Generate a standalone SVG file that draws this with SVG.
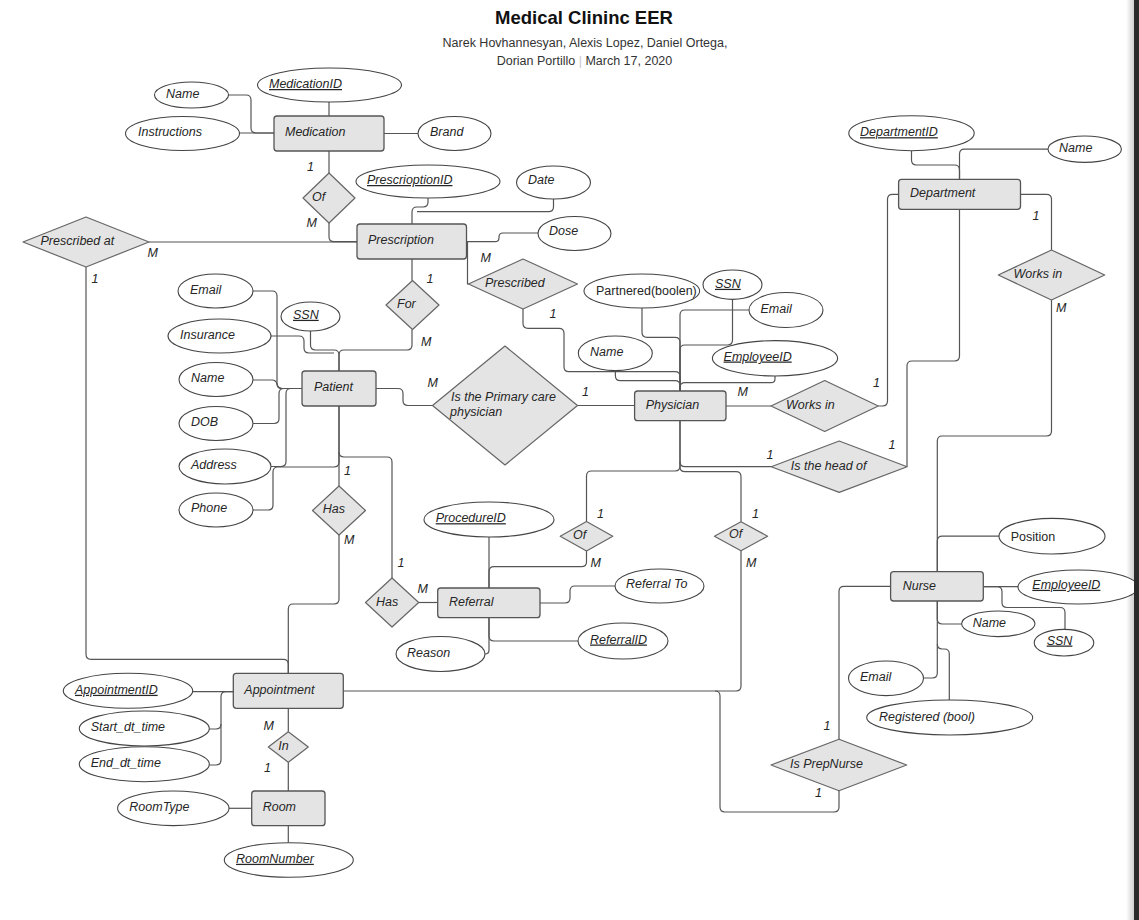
<svg xmlns="http://www.w3.org/2000/svg" width="1139" height="920" viewBox="0 0 1139 920">
<defs>
<linearGradient id="shade" x1="0" y1="0" x2="1" y2="0">
<stop offset="0" stop-color="#ffffff"/>
<stop offset="1" stop-color="#d0d0d0"/>
</linearGradient>
</defs>
<style>
text{font-family:"Liberation Sans",Arial,sans-serif;font-size:12.5px;fill:#262626;font-style:italic}
.t{font-style:normal}
.u{text-decoration:underline}
.title{font-size:18.5px;font-weight:bold;font-style:normal;fill:#111}
.sub{font-size:12.5px;font-style:normal;fill:#333}
.ent{fill:#e4e4e4;stroke:#555;stroke-width:1.3}
.rel{fill:#e4e4e4;stroke:#666;stroke-width:1.2;stroke-linejoin:round}
.att{fill:#fff;stroke:#444;stroke-width:1.1}
#connectors path{fill:none;stroke:#555;stroke-width:1.2}
</style>
<rect x="0" y="0" width="1139" height="920" fill="#fff"/>
<rect x="1126" y="0" width="8" height="920" fill="url(#shade)"/>

<g id="title">
<text class="title" x="584" y="24" text-anchor="middle">Medical Clininc EER</text>
<text class="sub" x="585" y="47" text-anchor="middle">Narek Hovhannesyan,  Alexis Lopez, Daniel Ortega,</text>
<text class="sub" x="584.5" y="65" text-anchor="middle">Dorian Portillo <tspan fill="#c8c8c8">|</tspan> March 17, 2020</text>
</g>

<g id="connectors">
<path d="M228,95 H246 q5,0 5,5 V128 q0,5 5,5 H274"/>
<path d="M239,133 H274"/>
<path d="M329,102 V116"/>
<path d="M384,133.5 H418"/>
<path d="M329,151 V173"/>
<path d="M329,223 V236.7 q0,5 5,5 H357"/>
<path d="M149,242 H357"/>
<path d="M428,198 V202 q0,5 -5,5 H417 q-5,0 -5,5 V224"/>
<path d="M553.5,199 V206.7 q0,5 -5,5 H417"/>
<path d="M466.5,241.7 H495 q4,0 4,-4 V237 q0,-4 4,-4 H538"/>
<path d="M467.5,241.7 V284 H469"/>
<path d="M523,309 V323.3 q0,5 5,5 H559 q5,0 5,5 V366.7 q0,5 5,5 H675 q5,0 5,5 V391"/>
<path d="M412,259 V280.5"/>
<path d="M412,329.5 V345 q0,5 -5,5 H344 q-5,0 -5,5 V371"/>
<path d="M310.5,331 V345 q0,5 5,5 H334 q5,0 5,5 V371"/>
<path d="M271,336 H299 q5,0 5,5 V348 q0,5 5,5 H334"/>
<path d="M253,291 H272 q5,0 5,5 V383.5 q0,5 5,5 H302"/>
<path d="M253,380 H272 q4,0 5,4 q1,4.5 5,4.5 H302"/>
<path d="M253,423.5 H274 q5,0 5,-5 V393.5 q0,-5 5,-5 H302"/>
<path d="M271,466.5 H281 q5,0 5,-5 V393.5 q0,-5 5,-5 H302"/>
<path d="M253,510 H268 q5,0 5,-5 V472 q0,-5 5,-5 H334 q5,0 5,-5 V406"/>
<path d="M376,388.5 H398 q5,0 5,5 V400.5 q0,5 5,5 H432.5"/>
<path d="M577.5,405.5 H634.6"/>
<path d="M339,406 V486"/>
<path d="M339,452 q0,5 5,5 H387 q5,0 5,5 V578"/>
<path d="M339,535 V599 q0,5 -5,5 H293.3 q-5,0 -5,5 V673.3"/>
<path d="M86,267 V654.3 q0,5 5,5 H283.3 q5,0 5,5 V673.3"/>
<path d="M419,602.5 H437.7"/>
<path d="M489,537 V588"/>
<path d="M586.5,551 V561.7 q0,5 -5,5 H494 q-5,0 -5,5 V588"/>
<path d="M540,603 H565 q5,0 5,-5 V591 q0,-5 5,-5 H615"/>
<path d="M489,617.7 V636 q0,5 5,5 H578"/>
<path d="M489,617.7 V650 q0,4 -4,4"/>
<path d="M680,420.7 V466 q0,5 -5,5 H591.5 q-5,0 -5,5 V521.7"/>
<path d="M680,420.7 V461.7 q0,5 5,5 H771.2"/>
<path d="M680,461.7 V466.7 q0,5 5,5 H736 q5,0 5,5 V521.7"/>
<path d="M642,308 V332.3 q0,5 5,5 H675 q5,0 5,5 V391"/>
<path d="M749,310 H685 q-5,0 -5,5 V391"/>
<path d="M732.5,299.3 V340 q0,5 -5,5 H685 q-5,0 -5,5 V391"/>
<path d="M615.4,370.7 V375.7 q0,5 5,5 H675 q5,0 5,5 V391"/>
<path d="M775,376 V378.7 q0,4 -4,4 H685 q-5,0 -5,5 V391"/>
<path d="M726,406 H771"/>
<path d="M878.3,406 H882.5 q5,0 5,-5 V199.3 q0,-5 5,-5 H898.6"/>
<path d="M959.5,209.3 V356 q0,5 -5,5 H912 q-5,0 -5,5 V466.7"/>
<path d="M911.5,150.7 V160 q0,5 5,5 H954.5 q5,0 5,5 V179.3"/>
<path d="M1048,149.2 H964.5 q-5,0 -5,5 V179.3"/>
<path d="M1020.5,194.3 H1046.5 q5,0 5,5 V250"/>
<path d="M1051.5,300 V431 q0,5 -5,5 H942.3 q-5,0 -5,5 V571.7"/>
<path d="M999,536.2 H942.3 q-5,0 -5,5 V571.7"/>
<path d="M983.3,586.7 H1018"/>
<path d="M983.3,586.7 H997 q5,0 5,5 V602.5 q0,5 5,5 H1060 q5,0 5,5 V629.3"/>
<path d="M937.3,601 V619 q0,5 5,5 H961.7"/>
<path d="M937.3,601 V673 q0,5 -5,5 H923.3"/>
<path d="M937.3,644 q0,5 5,5 H944.3 q5,0 5,5 V700"/>
<path d="M890.5,586.3 H844 q-5,0 -5,5 V739.3"/>
<path d="M741,550.7 V686 q0,5 -5,5 H343.3"/>
<path d="M715,691 q5,0 5,5 V807 q0,5 5,5 H834 q5,0 5,-5 V790.7"/>
<path d="M192.7,691.7 H233.3"/>
<path d="M209.3,729 H216 q5,0 5,-5 V696.7 q0,-5 5,-5 H233.3"/>
<path d="M209.3,765 H216 q5,0 5,-5 V724"/>
<path d="M288.3,708.3 V731.7"/>
<path d="M288.3,762.3 V791"/>
<path d="M229,808.3 H251.7"/>
<path d="M288.3,825.7 V842.7"/>
</g>

<g id="labels">
<text x="307" y="170.5">1</text>
<text x="306.5" y="227">M</text>
<text x="147.5" y="257">M</text>
<text x="91.5" y="283">1</text>
<text x="480.5" y="262">M</text>
<text x="426.5" y="283">1</text>
<text x="421" y="346">M</text>
<text x="549.5" y="318">1</text>
<text x="427.5" y="387">M</text>
<text x="582" y="396">1</text>
<text x="344" y="474.5">1</text>
<text x="344" y="544">M</text>
<text x="397.5" y="567">1</text>
<text x="417.5" y="593">M</text>
<text x="597" y="518">1</text>
<text x="590.5" y="567">M</text>
<text x="752" y="518">1</text>
<text x="746" y="567">M</text>
<text x="737.5" y="396">M</text>
<text x="873" y="387">1</text>
<text x="766.5" y="458.5">1</text>
<text x="888.5" y="449">1</text>
<text x="1032.5" y="219.5">1</text>
<text x="1056" y="312">M</text>
<text x="823.5" y="729.5">1</text>
<text x="815" y="797">1</text>
<text x="263.5" y="729.5">M</text>
<text x="264" y="772">1</text>
</g>

<g id="medication">
<rect class="ent" x="274" y="116" width="110" height="35" rx="3"/>
<text x="285" y="136">Medication</text>
</g>
<g id="med-name"><ellipse class="att" cx="191.5" cy="95" rx="37" ry="13"/><text x="166" y="98">Name</text></g>
<g id="med-id"><ellipse class="att" cx="329.5" cy="85" rx="72" ry="17"/><text class="u" x="269" y="88">MedicationID</text></g>
<g id="med-instructions"><ellipse class="att" cx="182.5" cy="133.5" rx="57" ry="17"/><text x="138" y="135.5">Instructions</text></g>
<g id="med-brand"><ellipse class="att" cx="454.5" cy="133.5" rx="36.5" ry="17"/><text x="430" y="135.5">Brand</text></g>
<g id="rel-of-med"><polygon class="rel" points="303,198 329,173 355,198 329,223"/><text x="312" y="200.5">Of</text></g>

<g id="prescription">
<rect class="ent" x="357" y="224" width="109.5" height="35" rx="3"/>
<text x="368" y="244">Prescription</text>
</g>
<g id="pres-id"><ellipse class="att" cx="428" cy="181.5" rx="72" ry="16.5"/><text class="u" x="367" y="184">PrescrioptionID</text></g>
<g id="pres-date"><ellipse class="att" cx="553.5" cy="182.5" rx="37" ry="16.5"/><text x="528" y="184">Date</text></g>
<g id="pres-dose"><ellipse class="att" cx="574.5" cy="233.5" rx="36.5" ry="17"/><text x="549" y="235.2">Dose</text></g>
<g id="rel-prescribed-at"><polygon class="rel" points="23,242 86,217 149,242 86,267"/><text x="40.5" y="244.5">Prescribed at</text></g>
<g id="rel-prescribed"><polygon class="rel" points="468.5,284 523,259 577.5,284 523,309"/><text x="485" y="287.2">Prescribed</text></g>
<g id="rel-for"><polygon class="rel" points="386,305 412.5,280.5 439,305 412.5,329.5"/><text x="397" y="307.8">For</text></g>

<g id="patient">
<rect class="ent" x="302" y="371" width="74" height="35" rx="3"/>
<text x="314" y="390.5">Patient</text>
</g>
<g id="pat-email"><ellipse class="att" cx="215.5" cy="291" rx="37.5" ry="17"/><text x="190" y="293.5">Email</text></g>
<g id="pat-ssn"><ellipse class="att" cx="310.5" cy="316.5" rx="29.5" ry="14.5"/><text class="u" x="293" y="318.8">SSN</text></g>
<g id="pat-insurance"><ellipse class="att" cx="219.5" cy="336" rx="51.5" ry="17"/><text x="180" y="338.5">Insurance</text></g>
<g id="pat-name"><ellipse class="att" cx="216" cy="379.5" rx="37" ry="17"/><text x="191" y="381.8">Name</text></g>
<g id="pat-dob"><ellipse class="att" cx="216" cy="423.5" rx="37" ry="17"/><text x="191" y="425.5">DOB</text></g>
<g id="pat-address"><ellipse class="att" cx="225" cy="466.5" rx="46" ry="17.5"/><text x="191" y="468.8">Address</text></g>
<g id="pat-phone"><ellipse class="att" cx="216" cy="510" rx="37" ry="17"/><text x="191" y="512.2">Phone</text></g>
<g id="rel-primary-care"><polygon class="rel" points="432.5,405.5 505,346 577.5,405.5 505,465"/><text x="451" y="400.5">Is the Primary care</text><text x="450" y="415.5">physician</text></g>
<g id="rel-has-appt"><polygon class="rel" points="312.5,510.5 339,486 365.5,510.5 339,535"/><text x="322.7" y="513.2">Has</text></g>
<g id="rel-has-ref"><polygon class="rel" points="365.5,602.5 392,578 418.7,602.5 392,627"/><text x="376" y="606.2">Has</text></g>

<g id="physician">
<rect class="ent" x="634.6" y="391" width="91.4" height="29.7" rx="3"/>
<text x="645.7" y="408.5">Physician</text>
</g>
<g id="phy-partnered"><ellipse class="att" cx="641.8" cy="291" rx="57.8" ry="17"/><text class="t" x="596" y="295.2" font-size="12">Partnered(boolen)</text></g>
<g id="phy-ssn"><ellipse class="att" cx="732.5" cy="284.7" rx="29.5" ry="14.7"/><text class="u" x="715" y="287.8">SSN</text></g>
<g id="phy-email"><ellipse class="att" cx="786" cy="310" rx="37" ry="17.5"/><text x="760.5" y="312.8">Email</text></g>
<g id="phy-name"><ellipse class="att" cx="615.3" cy="353.3" rx="37" ry="17.3"/><text x="590" y="355.5">Name</text></g>
<g id="phy-employeeid"><ellipse class="att" cx="775" cy="358.3" rx="62.6" ry="17.7"/><text class="u" x="723.6" y="360.5">EmployeeID</text></g>
<g id="rel-works-in-phy"><polygon class="rel" points="771,406 824.7,380.5 878.3,406 824.7,431.5"/><text x="786" y="408.5">Works in</text></g>
<g id="rel-head-of"><polygon class="rel" points="771.2,466.7 839.2,441 907.1,466.7 839.2,492.4"/><text x="790.8" y="469.5">Is the head of</text></g>
<g id="rel-of-ref"><polygon class="rel" points="560.2,536.3 586.5,521.6 612.8,536.3 586.5,551"/><text x="573" y="538.5">Of</text></g>
<g id="rel-of-appt"><polygon class="rel" points="714.4,536.2 741,521.7 767.6,536.2 741,550.7"/><text x="729" y="537.8">Of</text></g>

<g id="referral">
<rect class="ent" x="437.7" y="588" width="102.3" height="29.7" rx="3"/>
<text x="449" y="605.5">Referral</text>
</g>
<g id="ref-procedureid"><ellipse class="att" cx="489" cy="519.5" rx="65" ry="17.5"/><text class="u" x="435.7" y="522.2">ProcedureID</text></g>
<g id="ref-to"><ellipse class="att" cx="659.5" cy="586" rx="44.5" ry="17"/><text x="626" y="587.8">Referral To</text></g>
<g id="ref-id"><ellipse class="att" cx="623" cy="641" rx="45" ry="18"/><text class="u" x="590" y="643.5">ReferralID</text></g>
<g id="ref-reason"><ellipse class="att" cx="440.5" cy="654" rx="44.5" ry="17.5"/><text x="407" y="657.2">Reason</text></g>

<g id="department">
<rect class="ent" x="898.6" y="179.3" width="121.9" height="30" rx="3"/>
<text x="910" y="196.8">Department</text>
</g>
<g id="dep-id"><ellipse class="att" cx="911.5" cy="133.2" rx="62.7" ry="17.5"/><text class="u" x="860" y="136.2">DepartmentID</text></g>
<g id="dep-name"><ellipse class="att" cx="1084.7" cy="149.2" rx="36.7" ry="13.2"/><text x="1059" y="152.2">Name</text></g>
<g id="rel-works-in-nurse"><polygon class="rel" points="998.3,275 1051.5,250 1104.7,275 1051.5,300"/><text x="1013.5" y="277.8">Works in</text></g>

<g id="nurse">
<rect class="ent" x="890.6" y="571.7" width="92.7" height="29.3" rx="3"/>
<text x="902.7" y="589.5">Nurse</text>
</g>
<g id="nur-position"><ellipse class="att" cx="1052" cy="536.2" rx="53" ry="17.8"/><text class="t" x="1010.7" y="540.7" font-size="14.5">Position</text></g>
<g id="nur-employeeid"><ellipse class="att" cx="1078" cy="587" rx="60" ry="17"/><text class="u" x="1032.3" y="588.8">EmployeeID</text></g>
<g id="nur-name"><ellipse class="att" cx="998.3" cy="623.8" rx="36.7" ry="12.8"/><text x="972.7" y="627.2">Name</text></g>
<g id="nur-ssn"><ellipse class="att" cx="1064" cy="642.7" rx="29.8" ry="13.3"/><text class="u" x="1046.7" y="644.5">SSN</text></g>
<g id="nur-email"><ellipse class="att" cx="886" cy="678.3" rx="37.5" ry="17.3"/><text x="860" y="680.5">Email</text></g>
<g id="nur-registered"><ellipse class="att" cx="949.7" cy="717.5" rx="83" ry="17.5"/><text x="879" y="720.5">Registered (bool)</text></g>
<g id="rel-prepnurse"><polygon class="rel" points="771,765 839,739.3 906.7,765 839,790.7"/><text x="790" y="767.8">Is PrepNurse</text></g>

<g id="appointment">
<rect class="ent" x="233.3" y="673.3" width="110" height="35" rx="3"/>
<text x="244.3" y="693.8">Appointment</text>
</g>
<g id="app-id"><ellipse class="att" cx="128" cy="690.8" rx="64.7" ry="17.5"/><text class="u" x="75" y="693.8">AppointmentID</text></g>
<g id="app-start"><ellipse class="att" cx="144.3" cy="728.5" rx="65" ry="17.5"/><text x="90.7" y="731.2">Start_dt_time</text></g>
<g id="app-end"><ellipse class="att" cx="144.3" cy="764.2" rx="65" ry="17.5"/><text x="90.7" y="767.2">End_dt_time</text></g>
<g id="rel-in"><polygon class="rel" points="268.3,747 288.3,731.7 308.3,747 288.3,762.3"/><text x="278.3" y="749.8">In</text></g>

<g id="room">
<rect class="ent" x="251.7" y="791" width="73.3" height="34.7" rx="3"/>
<text x="262.7" y="810.5">Room</text>
</g>
<g id="room-type"><ellipse class="att" cx="173.3" cy="808.3" rx="55.7" ry="17.3"/><text x="129.3" y="810.5">RoomType</text></g>
<g id="room-number"><ellipse class="att" cx="288.8" cy="860" rx="64.5" ry="17.3"/><text class="u" x="236" y="862.8">RoomNumber</text></g>

<rect x="1134" y="0" width="5" height="920" fill="#2b2b2b"/>
</svg>
